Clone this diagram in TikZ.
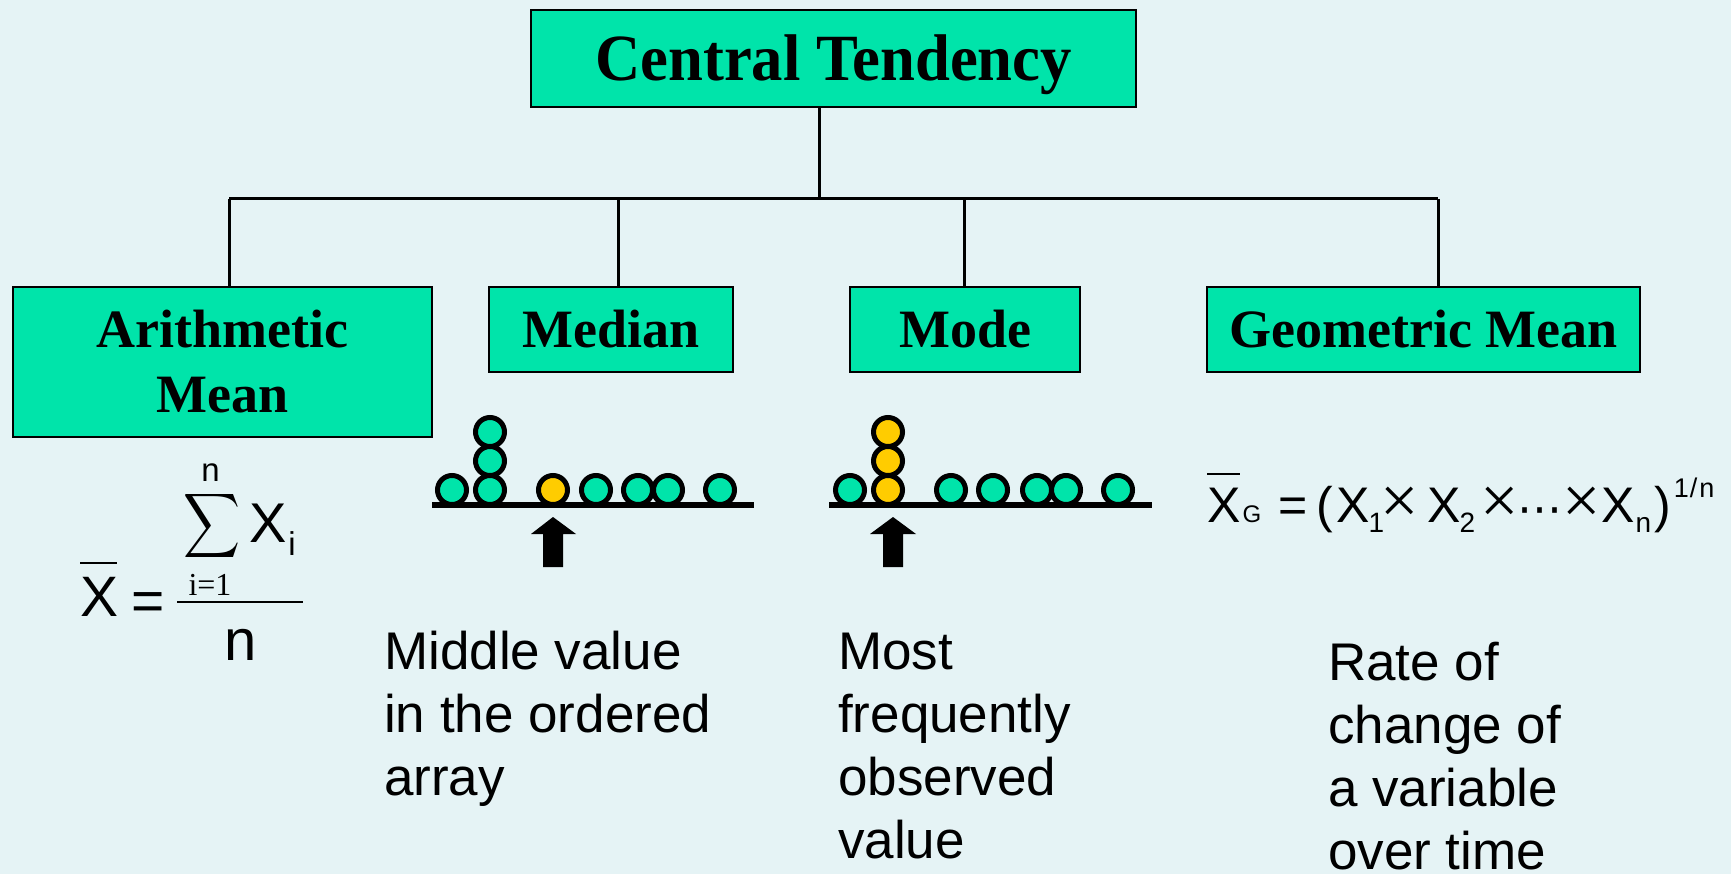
\documentclass[tikz,border=0pt]{standalone}
\usepackage{fontspec}
\usepackage{graphicx}
\setmainfont{Liberation Sans}
\newfontfamily\serifface{Liberation Serif}
\newfontfamily\titleface{Liberation Serif}[FakeStretch=0.95]
\newfontfamily\symface{DejaVu Sans}
\newcommand\setsz[1]{\fontsize{#1}{#1}\selectfont}

\definecolor{bgc}{RGB}{229,243,245}
\definecolor{boxfill}{RGB}{0,228,170}
\definecolor{dotyellow}{RGB}{255,204,0}

\tikzset{
  catbox/.style={draw=black, line width=2.5pt, fill=boxfill, inner sep=0pt,
    font=\serifface\bfseries\setsz{54}, text height=35.7pt, text depth=0pt},
  titlebox/.style={catbox, font=\titleface\bfseries\setsz{66}, text height=43.7pt},
  link/.style={draw=black, line width=3pt},
  dot/.style={circle, draw=black, line width=5pt, fill=boxfill,
    minimum size=29pt, inner sep=0pt},
  ydot/.style={dot, fill=dotyellow},
  axisline/.style={line width=6pt},
  pointer/.style={fill=black},
  desc/.style={anchor=base west, inner sep=0pt, font=\setsz{53}},
  tok/.style={anchor=base, inner sep=0pt},
  timestok/.style={tok, font=\serifface\setsz{68}},
}

\begin{document}
\begin{tikzpicture}[x=1pt,y=-1pt]
\useasboundingbox (0,0) rectangle (1731,874);
\fill[bgc] (0,0) rectangle (1731,874);

% ---- category boxes ----
\node[titlebox, minimum width=605pt, minimum height=97pt] (ct) at (833.5,58.5) {Central Tendency};
\node[catbox, minimum width=419pt, minimum height=150pt, text depth=65pt] (am) at (222.5,362)
  {\vtop{\baselineskip=65pt\halign{\hfil#\hfil\cr Arithmetic\cr Mean\cr}}};
\node[catbox, minimum width=244pt, minimum height=85pt] (med) at (611,329.5) {Median};
\node[catbox, minimum width=230pt, minimum height=85pt] (mod) at (965,329.5) {Mode};
\node[catbox, minimum width=433pt, minimum height=85pt] (geo) at (1423.5,329.5) {Geometric Mean};

% ---- tree connectors ----
\coordinate (hub) at (819,199);
\coordinate (jA) at (229,199);
\coordinate (jB) at (618,199);
\coordinate (jC) at (964,199);
\coordinate (jD) at (1438,199);
\draw[link] (hub |- ct.south) -- (hub);
\draw[link] (jA) -- (jD);
\draw[link] (jA) -- (jA |- am.north);
\draw[link] (jB) -- (jB |- med.north);
\draw[link] (jC) -- (jC |- mod.north);
\draw[link] (jD) -- (jD |- geo.north);

% ---- arithmetic mean formula ----
\node[tok, font=\setsz{57}] (axbar) at (100,616) {X};
\draw[line width=2.5pt] (80,563) -- (117,563);
\node[tok, font=\setsz{57}] (aeq) at (148,620) {=};
\draw[line width=2pt] (177,602) -- (303,602);
\node[anchor=north west, inner sep=0pt] (asum) at (183,490) {\resizebox*{57pt}{72pt}{$\displaystyle\sum$}};
\node[tok, font=\setsz{33}] (atop) at (210.5,481) {n};
\node[tok, font=\serifface\setsz{32}] (abot) at (210,595) {i=1};
\node[tok, font=\setsz{56}] (axi) at (268,542) {X};
\node[tok, font=\setsz{33}] (asubi) at (292,555) {i};
\node[tok, font=\setsz{58}] (aden) at (240.5,660) {n};

% ---- median dot plot ----
\draw[axisline] (432,505) -- (754,505);
\node[dot] (m1) at (452,490) {};
\node[dot] (m2) at (490,490) {};
\node[dot] (m3) at (490,461) {};
\node[dot] (m4) at (490,432) {};
\node[ydot] (m5) at (553,490) {};
\node[dot] (m6) at (596,490) {};
\node[dot] (m7) at (638,490) {};
\node[dot] (m8) at (668,490) {};
\node[dot] (m9) at (720,490) {};
\fill[pointer] (553,517) -- (576,534) -- (563,534) -- (563,567) -- (543,567) -- (543,534) -- (531,534) -- cycle;

% ---- mode dot plot ----
\draw[axisline] (829,505) -- (1152,505);
\node[dot] (d1) at (850,490) {};
\node[ydot] (d2) at (888,490) {};
\node[ydot] (d3) at (888,461) {};
\node[ydot] (d4) at (888,432) {};
\node[dot] (d5) at (951,490) {};
\node[dot] (d6) at (993,490) {};
\node[dot] (d7) at (1037,490) {};
\node[dot] (d8) at (1066,490) {};
\node[dot] (d9) at (1118,490) {};
\fill[pointer] (893,517) -- (916,534) -- (903,534) -- (903,567) -- (883,567) -- (883,534) -- (870,534) -- cycle;

% ---- geometric mean formula ----
\node[tok, font=\setsz{50}] (gx) at (1224.5,522) {X};
\draw[line width=2.5pt] (1207,474) -- (1240,474);
\node[tok, font=\setsz{24}] (gg) at (1252,522) {G};
\node[tok, font=\setsz{50}] (geq) at (1293.5,522) {=};
\node[tok, font=\setsz{50}] (gl) at (1324.5,522) {(};
\node[tok, font=\setsz{50}] (gx1) at (1353,522) {X};
\node[tok, font=\setsz{28}] (gs1) at (1376.5,532) {1};
\node[timestok] (gt1) at (1399.5,523) {×};
\node[tok, font=\setsz{50}] (gx2) at (1444.5,522) {X};
\node[tok, font=\setsz{28}] (gs2) at (1467.5,532) {2};
\node[timestok] (gt2) at (1500,523) {×};
\node[tok, font=\symface\setsz{45}] (gdots) at (1540,524) {⋯};
\node[timestok] (gt3) at (1582,523) {×};
\node[tok, font=\setsz{50}] (gxn) at (1618.5,522) {X};
\node[tok, font=\setsz{28}] (gsn) at (1643.5,532) {n};
\node[tok, font=\setsz{50}] (gr) at (1662.5,522) {)};
\node[tok, font=\setsz{27}] (gexp) at (1694,497) {1\hspace{1pt}/\hspace{2pt}n};

% ---- descriptions ----
\node[desc] (tmed) at (384,669)
  {\vtop{\baselineskip=63.3pt\hbox{Middle value}\hbox{in the ordered}\hbox{array}}};
\node[desc] (tmod) at (838,669)
  {\vtop{\baselineskip=63.3pt\hbox{Most}\hbox{frequently}\hbox{observed}\hbox{value}}};
\node[desc] (tgeo) at (1328,680)
  {\vtop{\baselineskip=63.3pt\hbox{Rate of}\hbox{change of}\hbox{a variable}\hbox{over time}}};
\end{tikzpicture}
\end{document}
